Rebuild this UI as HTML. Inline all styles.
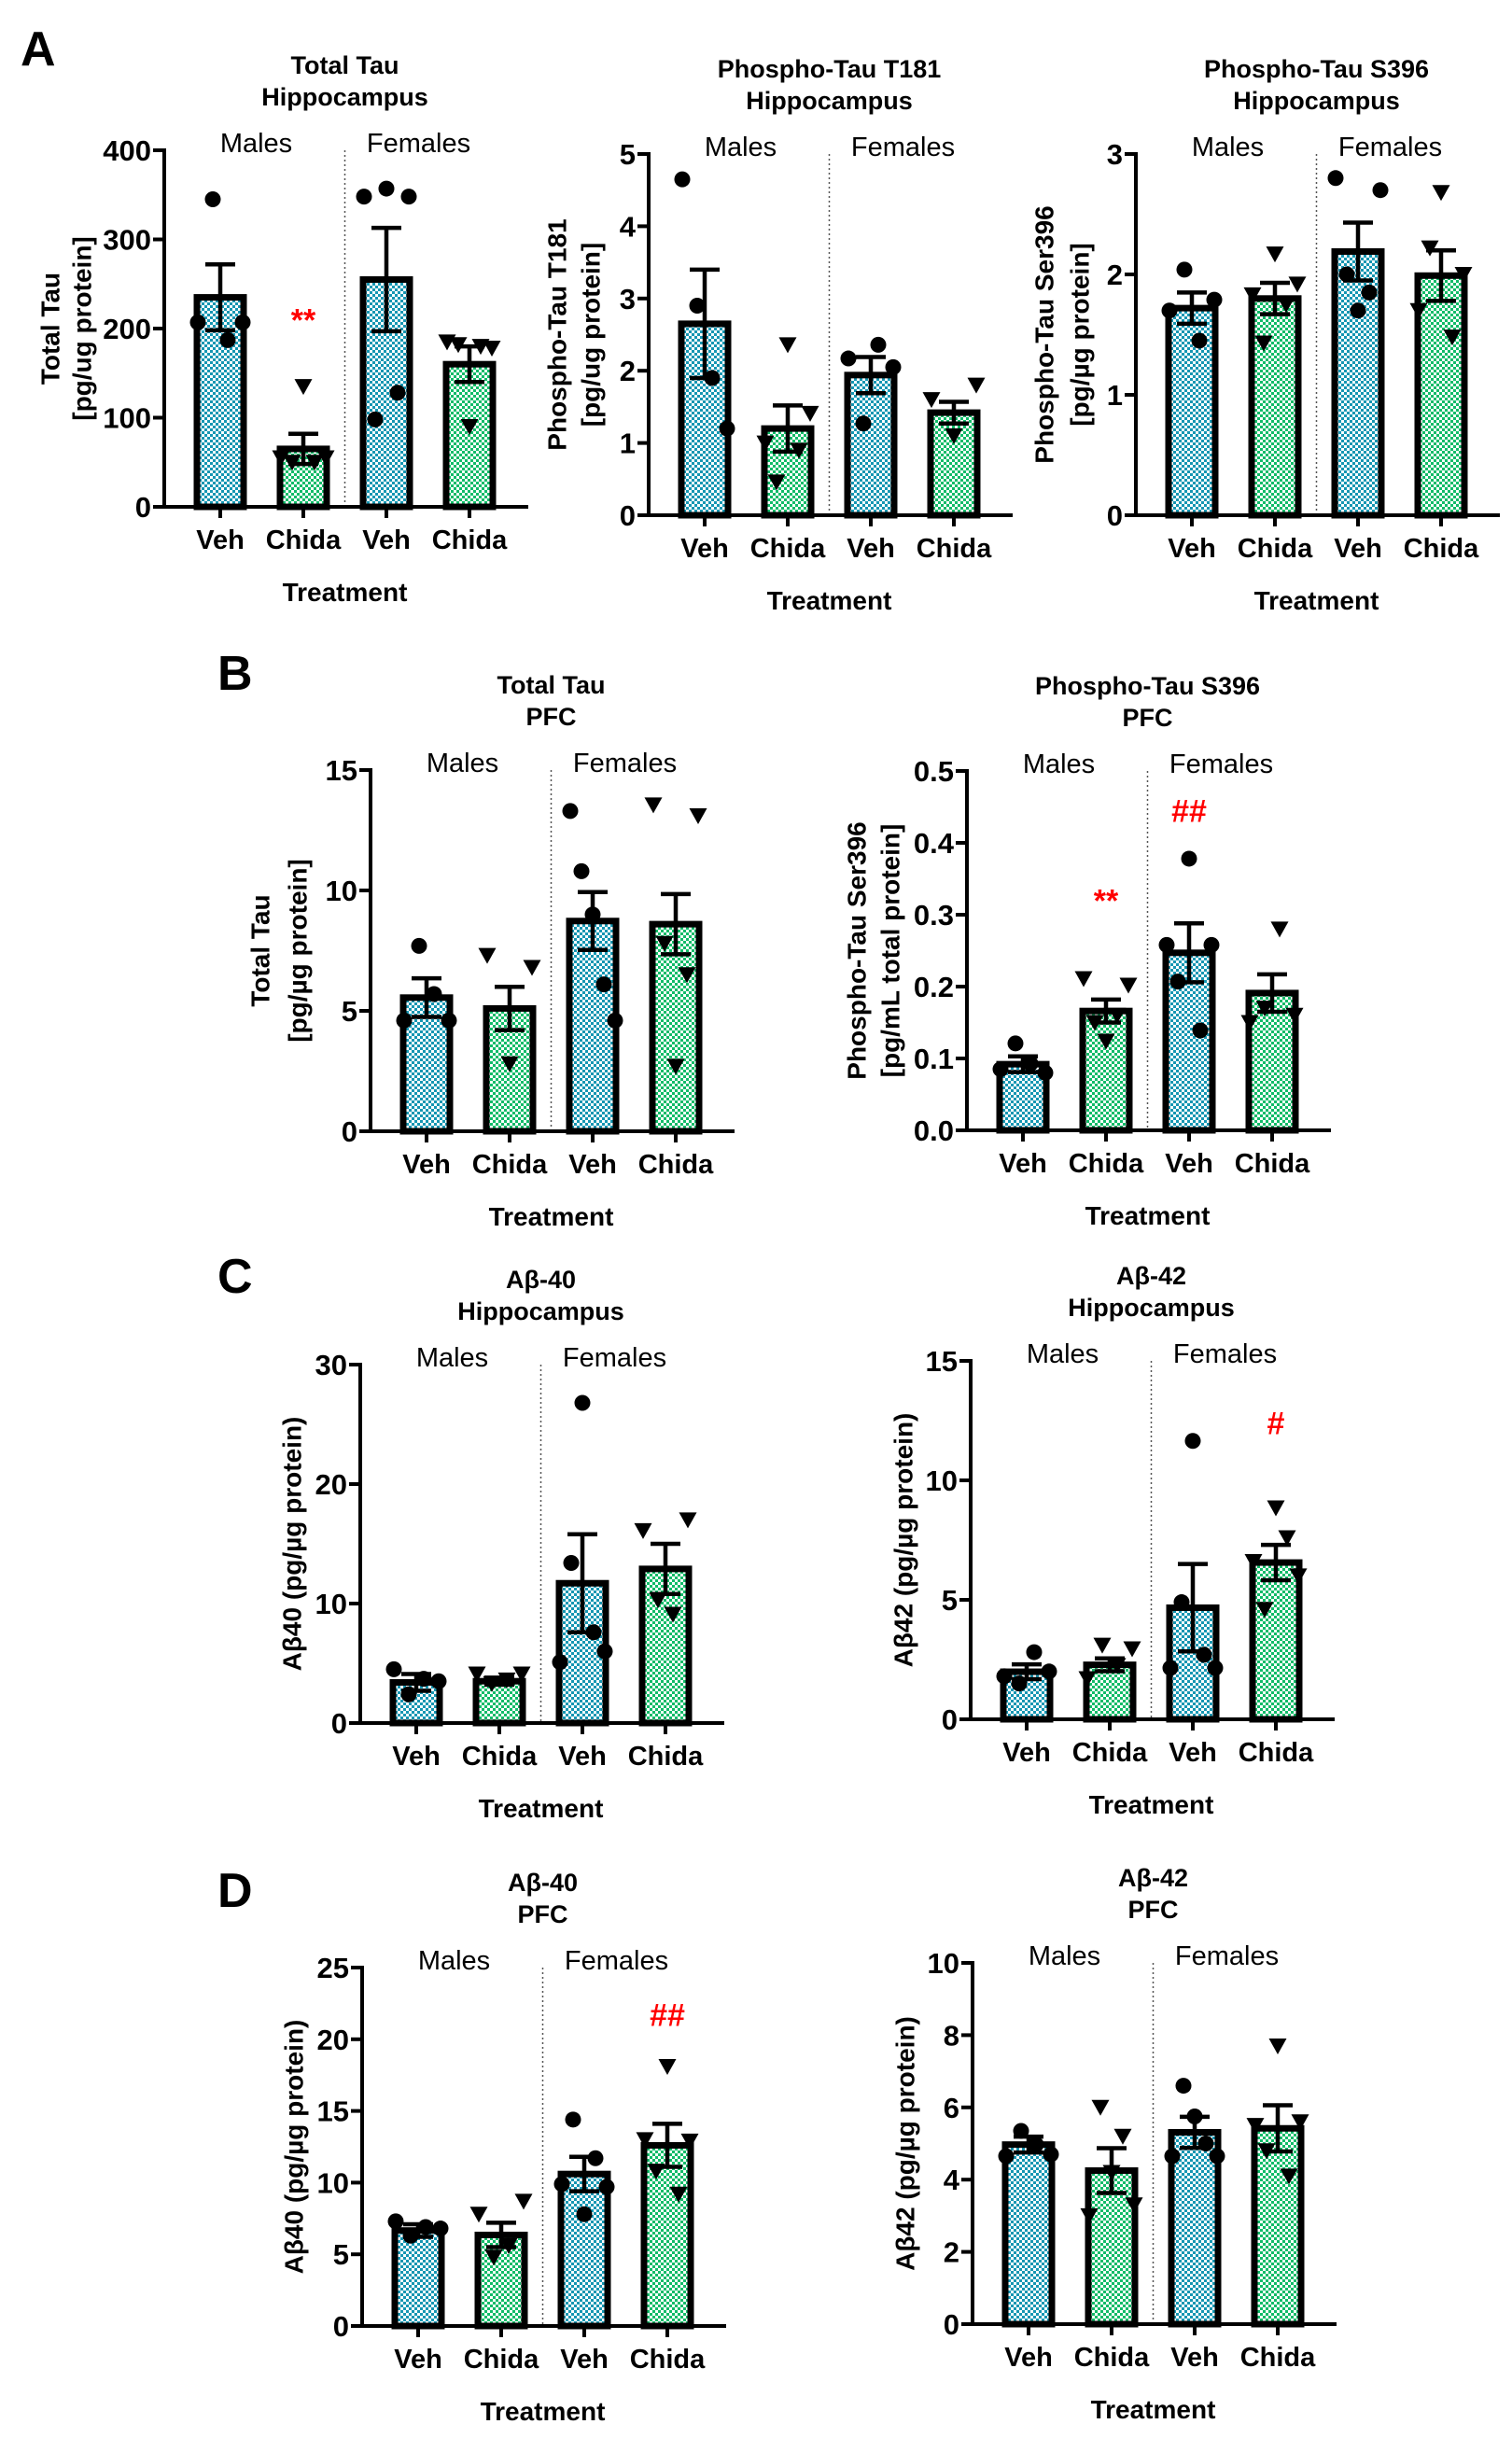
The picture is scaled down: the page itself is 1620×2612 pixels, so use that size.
<!DOCTYPE html>
<html><head><meta charset="utf-8"><style>
html,body{margin:0;padding:0;background:#fff;}
svg{display:block;}
text{font-family:"Liberation Sans",Arial,sans-serif;}
</style></head><body>
<svg id="fig" width="1620" height="2612" viewBox="0 0 1620 2612" xmlns="http://www.w3.org/2000/svg">
<defs>
<pattern id="pBlue" width="6" height="6" patternUnits="userSpaceOnUse">
<rect width="6" height="6" fill="#fff"/><rect width="3" height="3" fill="#1596b2"/><rect x="3" y="3" width="3" height="3" fill="#1596b2"/>
</pattern>
<pattern id="pGreen" width="6" height="6" patternUnits="userSpaceOnUse">
<rect width="6" height="6" fill="#fff"/><rect width="3" height="3" fill="#10bb68"/><rect x="3" y="3" width="3" height="3" fill="#10bb68"/>
</pattern>
</defs>
<text x="22" y="70" font-size="52" font-weight="bold">A</text>
<text x="233" y="739" font-size="52" font-weight="bold">B</text>
<text x="233" y="1385" font-size="52" font-weight="bold">C</text>
<text x="233" y="2043" font-size="52" font-weight="bold">D</text>
</svg>
<script>
const groups = ["Veh","Chida","Veh","Chida"];

const a1Means=[235,65,255,160], a1Sems=[37,17,58,20];
const a1Points=[[207,345,187,207],[55,50,135,50,55],[348,98,357,128,348],[185,182,90,180,178]];
const a1Ticks=[0,100,200,300,400];

const a2Means=[2.65,1.2,1.94,1.42], a2Sems=[0.75,0.32,0.25,0.15];
const a2Points=[[4.65,2.9,1.9,1.2],[1.0,0.46,2.36,0.9,1.41],[2.17,1.27,2.36,2.05],[1.6,1.1,1.8]];
const a2Ticks=[0,1,2,3,4,5];

const a3Means=[1.72,1.8,2.19,1.99], a3Sems=[0.13,0.13,0.24,0.21];
const a3Points=[[1.7,2.04,1.45,1.79],[1.83,1.43,2.17,1.75,1.92],[2.8,2.0,1.7,1.85,2.7],[1.7,2.22,2.68,1.48,2.0]];
const a3Ticks=[0,1,2,3];

const b1Means=[5.55,5.1,8.73,8.6], b1Sems=[0.8,0.9,1.2,1.25];
const b1Points=[[4.6,7.7,5.7,4.6],[7.3,2.8,6.8],[13.3,10.8,9.0,6.1,4.6],[13.55,7.8,2.7,6.5,13.1]];
const b1Ticks=[0,5,10,15];

const b2Means=[0.092,0.166,0.247,0.191], b2Sems=[0.011,0.016,0.041,0.026];
const b2Points=[[0.085,0.121,0.093,0.08],[0.211,0.15,0.124,0.16,0.202],[0.258,0.207,0.378,0.139,0.258],[0.15,0.17,0.28,0.16]];
const b2Ticks=[0,0.1,0.2,0.3,0.4,0.5];

const c1Means=[3.4,3.5,11.7,12.9], c1Sems=[0.7,0.3,4.1,2.1];
const c1Points=[[4.5,2.4,3.7,3.5],[4.1,3.3,3.6,4.1],[5.1,13.4,26.8,7.6,6.0],[16.1,10.3,9.1,17.0]];
const c1Ticks=[0,10,20,30];

const c2Means=[1.99,2.28,4.67,6.56], c2Sems=[0.31,0.27,1.83,0.74];
const c2Points=[[1.8,1.5,2.81,2.0],[1.7,3.1,2.25,2.95],[2.15,4.9,11.65,2.7,2.15],[6.6,4.6,8.85,7.6,6.0]];
const c2Ticks=[0,5,10,15];

const d1Means=[6.66,6.35,10.6,12.6], d1Sems=[0.44,0.85,1.2,1.5];
const d1Points=[[7.3,6.3,6.9,6.8],[7.8,4.8,5.6,8.7],[9.9,14.4,7.8,11.7,9.7],[13.0,10.8,18.1,9.2,12.9]];
const d1Ticks=[0,5,10,15,20,25];

const d2Means=[4.97,4.25,5.31,5.42], d2Sems=[0.22,0.62,0.43,0.64];
const d2Points=[[4.65,5.35,4.97,4.7],[3.0,6.0,4.2,5.2,3.3],[4.65,6.6,5.75,5.0,4.65],[5.5,4.8,7.7,4.1,5.6]];
const d2Ticks=[0,2,4,6,8,10];

const charts=[
 {id:"a1",ax:176,top:161,zero:543,max:400,means:a1Means,sems:a1Sems,pts:a1Points,ticks:a1Ticks,dec:0,title:["Total Tau","Hippocampus"],yt:["Total Tau","[pg/ug protein]"],ytx:[-122,-88],marks:[{g:1,v:210,t:"**"}]},
 {id:"a2",ax:695,top:165,zero:552,max:5,means:a2Means,sems:a2Sems,pts:a2Points,ticks:a2Ticks,dec:0,title:["Phospho-Tau T181","Hippocampus"],yt:["Phospho-Tau T181","[pg/ug protein]"],ytx:[-98,-62],marks:[]},
 {id:"a3",ax:1217,top:165,zero:552,max:3,means:a3Means,sems:a3Sems,pts:a3Points,ticks:a3Ticks,dec:0,title:["Phospho-Tau S396","Hippocampus"],yt:["Phospho-Tau Ser396","[pg/\u00b5g protein]"],ytx:[-98,-60],marks:[]},
 {id:"b1",ax:397,top:825,zero:1212,max:15,means:b1Means,sems:b1Sems,pts:b1Points,ticks:b1Ticks,dec:0,title:["Total Tau","PFC"],yt:["Total Tau","[pg/\u00b5g protein]"],ytx:[-118,-78],marks:[]},
 {id:"b2",ax:1036,top:826,zero:1211,max:0.5,means:b2Means,sems:b2Sems,pts:b2Points,ticks:b2Ticks,dec:1,title:["Phospho-Tau S396","PFC"],yt:["Phospho-Tau Ser396","[pg/mL total protein]"],ytx:[-118,-82],marks:[{g:1,v:0.32,t:"**"},{g:2,v:0.445,t:"##"}]},
 {id:"c1",ax:386,top:1462,zero:1846,max:30,means:c1Means,sems:c1Sems,pts:c1Points,ticks:c1Ticks,dec:0,title:["A\u03b2-40","Hippocampus"],yt:["A\u03b240 (pg/\u00b5g protein)"],ytx:[-73],marks:[]},
 {id:"c2",ax:1040,top:1458,zero:1842,max:15,means:c2Means,sems:c2Sems,pts:c2Points,ticks:c2Ticks,dec:0,title:["A\u03b2-42","Hippocampus"],yt:["A\u03b242 (pg/\u00b5g protein)"],ytx:[-72],marks:[{g:3,v:12.4,t:"#"}]},
 {id:"d1",ax:388,top:2108,zero:2492,max:25,means:d1Means,sems:d1Sems,pts:d1Points,ticks:d1Ticks,dec:0,title:["A\u03b2-40","PFC"],yt:["A\u03b240 (pg/\u00b5g protein)"],ytx:[-73],marks:[{g:3,v:21.7,t:"##"}]},
 {id:"d2",ax:1042,top:2103,zero:2490,max:10,means:d2Means,sems:d2Sems,pts:d2Points,ticks:d2Ticks,dec:0,title:["A\u03b2-42","PFC"],yt:["A\u03b242 (pg/\u00b5g protein)"],ytx:[-72],marks:[]}
];

const NS="http://www.w3.org/2000/svg";
const svg=document.getElementById("fig");
function mk(tag,attrs,parent){const e=document.createElementNS(NS,tag);for(const k in attrs)e.setAttribute(k,attrs[k]);(parent||svg).appendChild(e);return e;}
function txt(s,attrs,parent){const e=mk("text",attrs,parent);e.textContent=s;return e;}

charts.forEach(c=>{
 const g=mk("g",{});
 
 
 const y=v=>c.zero-(v/c.max)*(c.zero-c.top);
 const x=i=>c.ax+60+i*89;
 const divX=(x(1)+x(2))/2, xEnd=c.ax+390;
 c.title.forEach((t,i)=>{const e=txt(t,{x:divX,y:c.top-82+i*34,"font-size":27,"font-weight":"bold","text-anchor":"middle"},g);
  
  });
 const m=txt("Males",{x:(x(0)+x(1))/2-6,y:c.top+2,"font-size":29,"text-anchor":"middle"},g);
 
 
 const f=txt("Females",{x:(x(2)+x(3))/2-10,y:c.top+2,"font-size":29,"text-anchor":"middle"},g);
 
 
 const dv=mk("line",{x1:divX,x2:divX,y1:c.top,y2:c.zero,stroke:"#555","stroke-width":1.5,"stroke-dasharray":"2,3"},g);
 
 
 c.ticks.forEach(t=>{
  const l=mk("line",{x1:c.ax-12,x2:c.ax,y1:y(t),y2:y(t),stroke:"#000","stroke-width":4},g);
  
  
  const e=txt(t.toFixed(c.dec),{x:c.ax-14,y:y(t)+11,"font-size":31,"font-weight":"bold","text-anchor":"end"},g);
  
  
 });
 const yc=(c.top+c.zero)/2;
 c.yt.forEach((t,i)=>{const xx=c.ax+c.ytx[i];
  const e=txt(t,{x:xx,y:yc,"font-size":28,"font-weight":"bold","text-anchor":"middle","dominant-baseline":"central",transform:`rotate(-90 ${xx} ${yc})`},g);
  
  });
 c.means.forEach((v,i)=>{
  const b=mk("rect",{x:x(i)-25,y:y(v),width:50,height:c.zero-y(v),fill:i%2?"url(#pGreen)":"url(#pBlue)",stroke:"#000","stroke-width":7},g);
  
  
 });
 c.pts.forEach((arr,i)=>{
  const n=arr.length;
  arr.forEach((v,j)=>{
   const dx=n>1?(-24+48*j/(n-1)):0;
   const px=x(i)+dx, py=y(v);
   let p;
   if(i%2===0){p=mk("circle",{cx:px,cy:py,r:8.5,fill:"#000"},g);}
   else{p=mk("path",{d:`M${px-9.5},${py-8}L${px+9.5},${py-8}L${px},${py+9}Z`,fill:"#000"},g);}
   
   
  });
 });
 c.means.forEach((v,i)=>{
  const top=y(v+c.sems[i]), bot=y(v-c.sems[i]);
  const e=mk("path",{d:`M${x(i)},${bot}L${x(i)},${top}M${x(i)-16},${top}L${x(i)+16},${top}M${x(i)-16},${bot}L${x(i)+16},${bot}`,stroke:"#000","stroke-width":4.5,fill:"none"},g);
  
  
 });
 const ya=mk("line",{x1:c.ax,x2:c.ax,y1:c.top-2,y2:c.zero+2,stroke:"#000","stroke-width":4},g);
 
 
 const xa=mk("line",{x1:c.ax-12,x2:xEnd,y1:c.zero,y2:c.zero,stroke:"#000","stroke-width":4},g);
 
 
 groups.forEach((gname,i)=>{
  const t=mk("line",{x1:x(i),x2:x(i),y1:c.zero,y2:c.zero+12,stroke:"#000","stroke-width":4},g);
  
  
  const e=txt(gname,{x:x(i),y:c.zero+45,"font-size":29,"font-weight":"bold","text-anchor":"middle"},g);
  
  
 });
 const tr=txt("Treatment",{x:divX,y:c.zero+101,"font-size":28,"font-weight":"bold","text-anchor":"middle"},g);
 
 
 c.marks.forEach(mm=>{
  const e=txt(mm.t,{x:x(mm.g),y:y(mm.v)+12,"font-size":34,"font-weight":"bold",fill:"#f00","text-anchor":"middle"},g);
  
  
 });
});
</script>
</body></html>
